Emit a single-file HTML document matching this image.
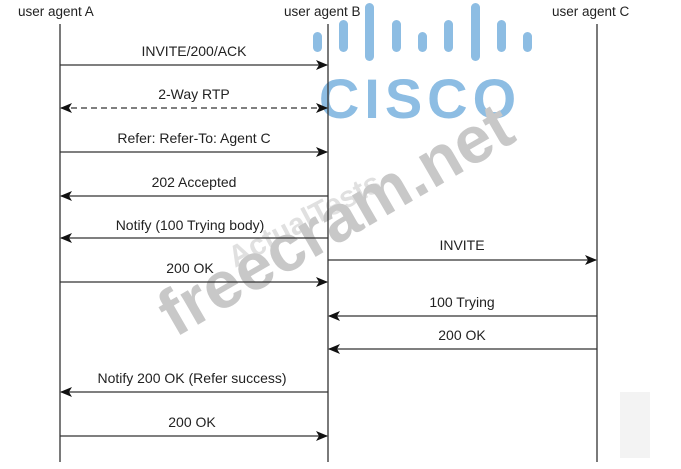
<!DOCTYPE html>
<html><head><style>
body{margin:0;background:#fff;}
svg text{font-family:"Liberation Sans",sans-serif;}
</style></head><body>
<svg width="681" height="464" viewBox="0 0 681 464" xmlns="http://www.w3.org/2000/svg">
<defs>
<marker id="ar" markerWidth="12" markerHeight="10" refX="11" refY="5" orient="auto-start-reverse" markerUnits="userSpaceOnUse">
<path d="M0,0 L12,5 L0,10 L3,5 z" fill="#111"/></marker>
</defs>
<rect width="681" height="464" fill="#fff"/>
<rect x="620" y="392" width="30" height="66" fill="#f3f3f3"/>
<g fill="#8dbde3">
<rect x="313" y="32" width="9" height="20" rx="4.5"/>
<rect x="339" y="20" width="9" height="32" rx="4.5"/>
<rect x="365" y="3" width="9" height="58" rx="4.5"/>
<rect x="392" y="20" width="9" height="32" rx="4.5"/>
<rect x="418" y="32" width="9" height="20" rx="4.5"/>
<rect x="444" y="20" width="9" height="32" rx="4.5"/>
<rect x="471" y="3" width="9" height="58" rx="4.5"/>
<rect x="497" y="20" width="9" height="32" rx="4.5"/>
<rect x="523" y="32" width="9" height="20" rx="4.5"/>
</g>
<text x="420" y="118" font-size="56" font-weight="bold" fill="#8dbde3" text-anchor="middle" letter-spacing="5">CISCO</text>
<g fill="#c8c8c8" font-weight="bold">
<text x="0" y="0" font-size="30" transform="translate(235,268) rotate(-28)" fill="#e0e0e0">ActualTests</text>
<text x="0" y="0" font-size="66" transform="translate(175,338) rotate(-30)">freecram.net</text>
</g>
<g stroke="#333" stroke-width="1.3">
<line x1="60" y1="24" x2="60" y2="462"/>
<line x1="328" y1="24" x2="328" y2="462"/>
<line x1="597" y1="24" x2="597" y2="462"/>
</g>
<g font-size="13.5" fill="#222">
<text x="18" y="16">user agent A</text>
<text x="284" y="16">user agent B</text>
<text x="552" y="16">user agent C</text>
</g>
<g stroke="#333" stroke-width="1.3" fill="none">
<line x1="60" y1="65" x2="327" y2="65" marker-end="url(#ar)"/>
<line x1="61" y1="108" x2="327" y2="108" stroke-dasharray="6,4" marker-end="url(#ar)" marker-start="url(#ar)"/>
<line x1="60" y1="152" x2="327" y2="152" marker-end="url(#ar)"/>
<line x1="328" y1="196" x2="61" y2="196" marker-end="url(#ar)"/>
<line x1="328" y1="238" x2="61" y2="238" marker-end="url(#ar)"/>
<line x1="328" y1="260" x2="596" y2="260" marker-end="url(#ar)"/>
<line x1="60" y1="282" x2="327" y2="282" marker-end="url(#ar)"/>
<line x1="597" y1="316" x2="329" y2="316" marker-end="url(#ar)"/>
<line x1="597" y1="349" x2="329" y2="349" marker-end="url(#ar)"/>
<line x1="328" y1="392" x2="61" y2="392" marker-end="url(#ar)"/>
<line x1="60" y1="436" x2="327" y2="436" marker-end="url(#ar)"/>
</g>
<g font-size="14" fill="#222" text-anchor="middle">
<text x="194" y="56">INVITE/200/ACK</text>
<text x="194" y="99">2-Way RTP</text>
<text x="194" y="143">Refer: Refer-To: Agent C</text>
<text x="194" y="187">202 Accepted</text>
<text x="190" y="230">Notify (100 Trying body)</text>
<text x="462" y="250">INVITE</text>
<text x="190" y="273">200 OK</text>
<text x="462" y="307">100 Trying</text>
<text x="462" y="340">200 OK</text>
<text x="192" y="383">Notify 200 OK (Refer success)</text>
<text x="192" y="427">200 OK</text>
</g>
</svg>
</body></html>
